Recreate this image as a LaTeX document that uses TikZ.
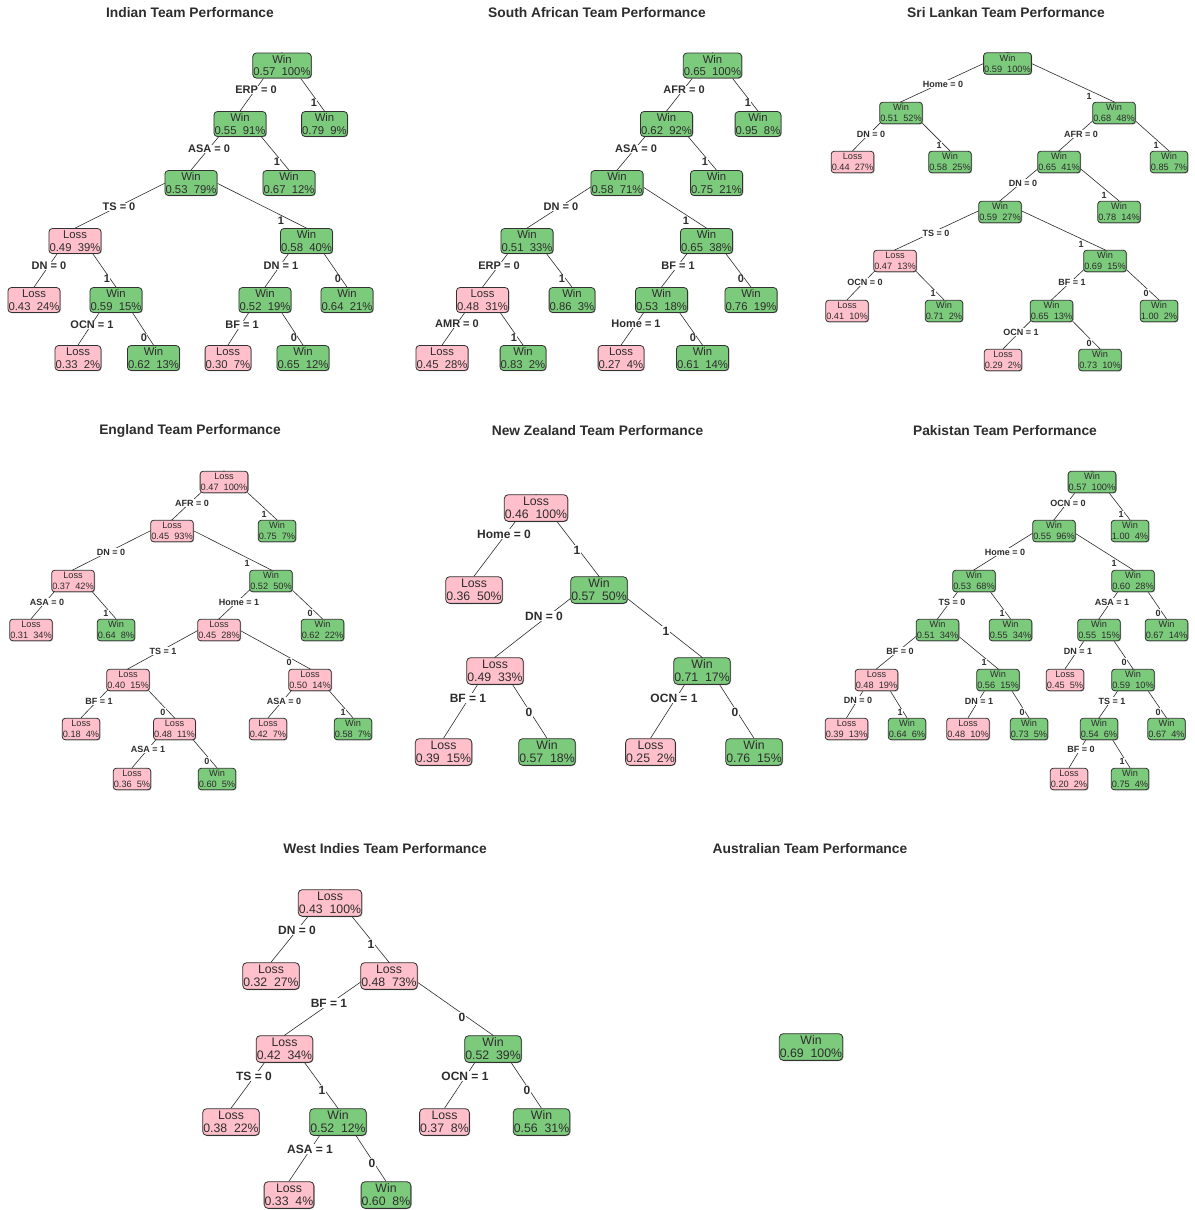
\documentclass[tikz,border=0pt]{standalone}
\usepackage{fontspec}
\setmainfont{Liberation Sans}
\usetikzlibrary{shadows}
\pgfdeclarelayer{bg}
\pgfdeclarelayer{paper}
\pgfsetlayers{paper,bg,main}
\definecolor{wingreen}{RGB}{124,202,124}
\definecolor{losspink}{RGB}{255,192,203}
\definecolor{txtgray}{RGB}{45,45,45}
\definecolor{bordergray}{RGB}{50,50,50}
\definecolor{shadowgray}{RGB}{150,150,150}
\tikzset{
  boxbase/.style={draw=bordergray, line width=0.8pt, rounded corners=3.5pt, inner xsep=0.6pt, inner ysep=0pt, align=center, text=txtgray,
    drop shadow={shadow xshift=0.7pt, shadow yshift=-0.7pt, fill=shadowgray, opacity=1}},
  midbox/.style={boxbase, minimum height=25pt, font=\fontsize{11.3}{12.4}\selectfont},
  smlbox/.style={boxbase, minimum height=21.5pt, rounded corners=3pt, font=\fontsize{9.2}{10.6}\selectfont},
  bigbox/.style={boxbase, minimum height=26.7pt, rounded corners=4pt, font=\fontsize{12.3}{13}\selectfont},
  lblbase/.style={fill=white, inner sep=0.4pt, text=txtgray},
  midlbl/.style={lblbase, font=\bfseries\fontsize{11}{12}\selectfont},
  smllbl/.style={lblbase, font=\bfseries\fontsize{9}{10}\selectfont},
  biglbl/.style={lblbase, font=\bfseries\fontsize{12}{13}\selectfont},
  ttl/.style={font=\bfseries\fontsize{13.8}{15}\selectfont, text=txtgray, inner sep=0pt},
  branch/.style={draw=txtgray, line width=0.6pt},
}
\newcommand{\br}[2]{\draw[branch] (#1.north) -- (#2.north);}
\newcommand{\splab}[4]{\node[splitlbl] (#1) at (#2,#3) {#4};}
\newcommand{\W}[4]{\node[winbox] (#1) at (#2,#3) {Win\\#4};}
\newcommand{\Ls}[4]{\node[lossbox] (#1) at (#2,#3) {Loss\\#4};}
\begin{document}
\begin{tikzpicture}[x=1pt,y=-1pt]
\useasboundingbox (0,0) rectangle (1194,1210);
\begin{pgfonlayer}{paper}
\fill[white] (0,0) rectangle (1194,1210);
\end{pgfonlayer}

% ---------------- Titles ----------------
\node[ttl] (t1) at (190,12.5) {Indian Team Performance};
\node[ttl] (t2) at (597,12.5) {South African Team Performance};
\node[ttl] (t3) at (1006,12.5) {Sri Lankan Team Performance};
\node[ttl] (t4) at (190,430.5) {England Team Performance};
\node[ttl] (t5) at (597.5,430.5) {New Zealand Team Performance};
\node[ttl] (t6) at (1005,430.5) {Pakistan Team Performance};
\node[ttl] (t7) at (385,848.5) {West Indies Team Performance};
\node[ttl] (t8) at (810,848.5) {Australian Team Performance};

% ---------------- Indian ----------------
\begin{scope}[winbox/.style={midbox,fill=wingreen}, lossbox/.style={midbox,fill=losspink}, splitlbl/.style={midlbl}]
\W{in1}{282}{65.5}{0.57\ \ 100\%}
\W{in2}{240}{124}{0.55\ \ 91\%}
\W{in3}{324.5}{124}{0.79\ \ 9\%}
\W{in4}{191}{183}{0.53\ \ 79\%}
\W{in5}{289}{183}{0.67\ \ 12\%}
\Ls{in6}{75}{241}{0.49\ \ 39\%}
\W{in7}{306.5}{241}{0.58\ \ 40\%}
\Ls{in8}{34}{300}{0.43\ \ 24\%}
\W{in9}{116}{300}{0.59\ \ 15\%}
\W{in10}{265}{300}{0.52\ \ 19\%}
\W{in11}{347}{300}{0.64\ \ 21\%}
\Ls{in12}{78}{358}{0.33\ \ 2\%}
\W{in13}{153.5}{358}{0.62\ \ 13\%}
\Ls{in14}{228}{358}{0.30\ \ 7\%}
\W{in15}{303}{358}{0.65\ \ 12\%}
\begin{pgfonlayer}{bg}
\br{in1}{in2}\br{in1}{in3}\br{in2}{in4}\br{in2}{in5}\br{in4}{in6}\br{in4}{in7}
\br{in6}{in8}\br{in6}{in9}\br{in7}{in10}\br{in7}{in11}\br{in9}{in12}\br{in9}{in13}
\br{in10}{in14}\br{in10}{in15}
\splab{inl1}{256}{90}{ERP = 0}
\splab{inl2}{314}{103}{1}
\splab{inl3}{209}{149}{ASA = 0}
\splab{inl4}{277}{162}{1}
\splab{inl5}{119}{207}{TS = 0}
\splab{inl6}{281}{221}{1}
\splab{inl7}{49}{266}{DN = 0}
\splab{inl8}{107}{279}{1}
\splab{inl9}{281}{266}{DN = 1}
\splab{inl10}{338}{279}{0}
\splab{inl11}{92}{325}{OCN = 1}
\splab{inl12}{144}{338}{0}
\splab{inl13}{242}{325}{BF = 1}
\splab{inl14}{294}{338}{0}
\end{pgfonlayer}
\end{scope}

% ---------------- South African ----------------
\begin{scope}[winbox/.style={midbox,fill=wingreen}, lossbox/.style={midbox,fill=losspink}, splitlbl/.style={midlbl}]
\W{sa1}{712.5}{65.5}{0.65\ \ 100\%}
\W{sa2}{666.5}{124}{0.62\ \ 92\%}
\W{sa3}{758}{124}{0.95\ \ 8\%}
\W{sa4}{617}{183}{0.58\ \ 71\%}
\W{sa5}{716.5}{183}{0.75\ \ 21\%}
\W{sa6}{527}{241}{0.51\ \ 33\%}
\W{sa7}{706.5}{241}{0.65\ \ 38\%}
\Ls{sa8}{482.5}{300}{0.48\ \ 31\%}
\W{sa9}{572}{300}{0.86\ \ 3\%}
\W{sa10}{661.5}{300}{0.53\ \ 18\%}
\W{sa11}{751}{300}{0.76\ \ 19\%}
\Ls{sa12}{442}{358}{0.45\ \ 28\%}
\W{sa13}{523}{358}{0.83\ \ 2\%}
\Ls{sa14}{621}{358}{0.27\ \ 4\%}
\W{sa15}{702.5}{358}{0.61\ \ 14\%}
\begin{pgfonlayer}{bg}
\br{sa1}{sa2}\br{sa1}{sa3}\br{sa2}{sa4}\br{sa2}{sa5}\br{sa4}{sa6}\br{sa4}{sa7}
\br{sa6}{sa8}\br{sa6}{sa9}\br{sa7}{sa10}\br{sa7}{sa11}\br{sa8}{sa12}\br{sa8}{sa13}
\br{sa10}{sa14}\br{sa10}{sa15}
\splab{sal1}{684}{90}{AFR = 0}
\splab{sal2}{748}{103}{1}
\splab{sal3}{636}{149}{ASA = 0}
\splab{sal4}{705}{162}{1}
\splab{sal5}{561}{207}{DN = 0}
\splab{sal6}{686}{221}{1}
\splab{sal7}{499}{266}{ERP = 0}
\splab{sal8}{562}{279}{1}
\splab{sal9}{678}{266}{BF = 1}
\splab{sal10}{741}{279}{0}
\splab{sal11}{457}{324}{AMR = 0}
\splab{sal12}{514}{338}{1}
\splab{sal13}{636}{324}{Home = 1}
\splab{sal14}{693}{338}{0}
\end{pgfonlayer}
\end{scope}

% ---------------- Sri Lankan ----------------
\begin{scope}[winbox/.style={smlbox,fill=wingreen}, lossbox/.style={smlbox,fill=losspink}, splitlbl/.style={smllbl}]
\W{sl1}{1007.5}{63.5}{0.59\ \ 100\%}
\W{sl2}{901}{113}{0.51\ \ 52\%}
\W{sl3}{1114}{113}{0.68\ \ 48\%}
\Ls{sl4}{852.5}{162}{0.44\ \ 27\%}
\W{sl5}{950}{162}{0.58\ \ 25\%}
\W{sl6}{1059}{162}{0.65\ \ 41\%}
\W{sl7}{1169}{162}{0.85\ \ 7\%}
\W{sl8}{1000}{212}{0.59\ \ 27\%}
\W{sl9}{1119}{212}{0.78\ \ 14\%}
\Ls{sl10}{895}{261}{0.47\ \ 13\%}
\W{sl11}{1105}{261}{0.69\ \ 15\%}
\Ls{sl12}{847}{311}{0.41\ \ 10\%}
\W{sl13}{944}{311}{0.71\ \ 2\%}
\W{sl14}{1051.5}{311}{0.65\ \ 13\%}
\W{sl15}{1159}{311}{1.00\ \ 2\%}
\Ls{sl16}{1003}{360}{0.29\ \ 2\%}
\W{sl17}{1100}{360}{0.73\ \ 10\%}
\begin{pgfonlayer}{bg}
\br{sl1}{sl2}\br{sl1}{sl3}\br{sl2}{sl4}\br{sl2}{sl5}\br{sl3}{sl6}\br{sl3}{sl7}
\br{sl6}{sl8}\br{sl6}{sl9}\br{sl8}{sl10}\br{sl8}{sl11}\br{sl10}{sl12}\br{sl10}{sl13}
\br{sl11}{sl14}\br{sl11}{sl15}\br{sl14}{sl16}\br{sl14}{sl17}
\splab{sll1}{943}{84}{Home = 0}
\splab{sll2}{1089}{96}{1}
\splab{sll3}{871}{134}{DN = 0}
\splab{sll4}{939}{145}{1}
\splab{sll5}{1081}{134}{AFR = 0}
\splab{sll6}{1156}{145}{1}
\splab{sll7}{1023}{183}{DN = 0}
\splab{sll8}{1104}{195}{1}
\splab{sll9}{936}{233}{TS = 0}
\splab{sll10}{1081}{244}{1}
\splab{sll11}{865}{282}{OCN = 0}
\splab{sll12}{933}{293}{1}
\splab{sll13}{1072}{282}{BF = 1}
\splab{sll14}{1146}{293}{0}
\splab{sll15}{1021}{332}{OCN = 1}
\splab{sll16}{1089}{343}{0}
\end{pgfonlayer}
\end{scope}

% ---------------- England ----------------
\begin{scope}[winbox/.style={smlbox,fill=wingreen}, lossbox/.style={smlbox,fill=losspink}, splitlbl/.style={smllbl}]
\Ls{en1}{224}{482}{0.47\ \ 100\%}
\Ls{en2}{172}{531}{0.45\ \ 93\%}
\W{en3}{277}{531}{0.75\ \ 7\%}
\Ls{en4}{73}{581}{0.37\ \ 42\%}
\W{en5}{271}{581}{0.52\ \ 50\%}
\Ls{en6}{31}{630}{0.31\ \ 34\%}
\W{en7}{116}{630}{0.64\ \ 8\%}
\Ls{en8}{219}{630}{0.45\ \ 28\%}
\W{en9}{322.5}{630}{0.62\ \ 22\%}
\Ls{en10}{128}{680}{0.40\ \ 15\%}
\Ls{en11}{310}{680}{0.50\ \ 14\%}
\Ls{en12}{81}{729}{0.18\ \ 4\%}
\Ls{en13}{174.5}{729}{0.48\ \ 11\%}
\Ls{en14}{268}{729}{0.42\ \ 7\%}
\W{en15}{353}{729}{0.58\ \ 7\%}
\Ls{en16}{132}{779}{0.36\ \ 5\%}
\W{en17}{217}{779}{0.60\ \ 5\%}
\begin{pgfonlayer}{bg}
\br{en1}{en2}\br{en1}{en3}\br{en2}{en4}\br{en2}{en5}\br{en4}{en6}\br{en4}{en7}
\br{en5}{en8}\br{en5}{en9}\br{en8}{en10}\br{en8}{en11}\br{en10}{en12}\br{en10}{en13}
\br{en11}{en14}\br{en11}{en15}\br{en13}{en16}\br{en13}{en17}
\splab{enl1}{192}{503}{AFR = 0}
\splab{enl2}{264}{514}{1}
\splab{enl3}{111}{552}{DN = 0}
\splab{enl4}{247}{563}{1}
\splab{enl5}{47}{602}{ASA = 0}
\splab{enl6}{106}{613}{1}
\splab{enl7}{239}{602}{Home = 1}
\splab{enl8}{310}{613}{0}
\splab{enl9}{163}{651}{TS = 1}
\splab{enl10}{289}{662}{0}
\splab{enl11}{99}{701}{BF = 1}
\splab{enl12}{163}{712}{0}
\splab{enl13}{284}{701}{ASA = 0}
\splab{enl14}{343}{712}{1}
\splab{enl15}{148}{749}{ASA = 1}
\splab{enl16}{207}{761}{0}
\end{pgfonlayer}
\end{scope}

% ---------------- Pakistan ----------------
\begin{scope}[winbox/.style={smlbox,fill=wingreen}, lossbox/.style={smlbox,fill=losspink}, splitlbl/.style={smllbl}]
\W{pk1}{1092}{482}{0.57\ \ 100\%}
\W{pk2}{1054}{531}{0.55\ \ 96\%}
\W{pk3}{1130}{531}{1.00\ \ 4\%}
\W{pk4}{974}{581}{0.53\ \ 68\%}
\W{pk5}{1133}{581}{0.60\ \ 28\%}
\W{pk6}{937.5}{630}{0.51\ \ 34\%}
\W{pk7}{1010.5}{630}{0.55\ \ 34\%}
\W{pk8}{1099}{630}{0.55\ \ 15\%}
\W{pk9}{1166.5}{630}{0.67\ \ 14\%}
\Ls{pk10}{876.5}{680}{0.48\ \ 19\%}
\W{pk11}{998}{680}{0.56\ \ 15\%}
\Ls{pk12}{1065}{680}{0.45\ \ 5\%}
\W{pk13}{1133}{680}{0.59\ \ 10\%}
\Ls{pk14}{846.5}{729}{0.39\ \ 13\%}
\W{pk15}{907}{729}{0.64\ \ 6\%}
\Ls{pk16}{968}{729}{0.48\ \ 10\%}
\W{pk17}{1029}{729}{0.73\ \ 5\%}
\W{pk18}{1099}{729}{0.54\ \ 6\%}
\W{pk19}{1166.5}{729}{0.67\ \ 4\%}
\Ls{pk20}{1069}{779}{0.20\ \ 2\%}
\W{pk21}{1130}{779}{0.75\ \ 4\%}
\begin{pgfonlayer}{bg}
\br{pk1}{pk2}\br{pk1}{pk3}\br{pk2}{pk4}\br{pk2}{pk5}\br{pk4}{pk6}\br{pk4}{pk7}
\br{pk5}{pk8}\br{pk5}{pk9}\br{pk6}{pk10}\br{pk6}{pk11}\br{pk8}{pk12}\br{pk8}{pk13}
\br{pk10}{pk14}\br{pk10}{pk15}\br{pk11}{pk16}\br{pk11}{pk17}\br{pk13}{pk18}\br{pk13}{pk19}
\br{pk18}{pk20}\br{pk18}{pk21}
\splab{pkl1}{1068}{503}{OCN = 0}
\splab{pkl2}{1121}{514}{1}
\splab{pkl3}{1005}{552}{Home = 0}
\splab{pkl4}{1114}{563}{1}
\splab{pkl5}{952}{602}{TS = 0}
\splab{pkl6}{1002}{613}{1}
\splab{pkl7}{1112}{602}{ASA = 1}
\splab{pkl8}{1158}{613}{0}
\splab{pkl9}{900}{651}{BF = 0}
\splab{pkl10}{984}{662}{1}
\splab{pkl11}{1078}{651}{DN = 1}
\splab{pkl12}{1124}{662}{0}
\splab{pkl13}{858}{700}{DN = 0}
\splab{pkl14}{900}{712}{1}
\splab{pkl15}{979}{701}{DN = 1}
\splab{pkl16}{1022}{712}{0}
\splab{pkl17}{1112}{701}{TS = 1}
\splab{pkl18}{1158}{712}{0}
\splab{pkl19}{1081}{749}{BF = 0}
\splab{pkl20}{1122}{761}{1}
\end{pgfonlayer}
\end{scope}

% ---------------- New Zealand ----------------
\begin{scope}[winbox/.style={bigbox,fill=wingreen}, lossbox/.style={bigbox,fill=losspink}, splitlbl/.style={biglbl}]
\Ls{nz1}{536}{508}{0.46\ \ 100\%}
\Ls{nz2}{474}{590}{0.36\ \ 50\%}
\W{nz3}{599}{590}{0.57\ \ 50\%}
\Ls{nz4}{495}{671}{0.49\ \ 33\%}
\W{nz5}{702}{671}{0.71\ \ 17\%}
\Ls{nz6}{443.5}{752}{0.39\ \ 15\%}
\W{nz7}{547}{752}{0.57\ \ 18\%}
\Ls{nz8}{650.5}{752}{0.25\ \ 2\%}
\W{nz9}{754}{752}{0.76\ \ 15\%}
\begin{pgfonlayer}{bg}
\br{nz1}{nz2}\br{nz1}{nz3}\br{nz3}{nz4}\br{nz3}{nz5}\br{nz4}{nz6}\br{nz4}{nz7}
\br{nz5}{nz8}\br{nz5}{nz9}
\splab{nzl1}{504}{534}{Home = 0}
\splab{nzl2}{577}{550}{1}
\splab{nzl3}{544}{616}{DN = 0}
\splab{nzl4}{666}{631}{1}
\splab{nzl5}{468}{698}{BF = 1}
\splab{nzl6}{529}{712}{0}
\splab{nzl7}{674}{698}{OCN = 1}
\splab{nzl8}{735}{712}{0}
\end{pgfonlayer}
\end{scope}

% ---------------- West Indies ----------------
\begin{scope}[winbox/.style={bigbox,fill=wingreen}, lossbox/.style={bigbox,fill=losspink}, splitlbl/.style={biglbl}]
\Ls{wi1}{330}{903}{0.43\ \ 100\%}
\Ls{wi2}{271}{976}{0.32\ \ 27\%}
\Ls{wi3}{389}{976}{0.48\ \ 73\%}
\Ls{wi4}{284.5}{1049}{0.42\ \ 34\%}
\W{wi5}{493}{1049}{0.52\ \ 39\%}
\Ls{wi6}{231}{1122}{0.38\ \ 22\%}
\W{wi7}{338}{1122}{0.52\ \ 12\%}
\Ls{wi8}{444.5}{1122}{0.37\ \ 8\%}
\W{wi9}{541.5}{1122}{0.56\ \ 31\%}
\Ls{wi10}{289}{1195}{0.33\ \ 4\%}
\W{wi11}{386}{1195}{0.60\ \ 8\%}
\begin{pgfonlayer}{bg}
\br{wi1}{wi2}\br{wi1}{wi3}\br{wi3}{wi4}\br{wi3}{wi5}\br{wi4}{wi6}\br{wi4}{wi7}
\br{wi5}{wi8}\br{wi5}{wi9}\br{wi7}{wi10}\br{wi7}{wi11}
\splab{wil1}{297}{930}{DN = 0}
\splab{wil2}{371}{944}{1}
\splab{wil3}{329}{1003}{BF = 1}
\splab{wil4}{462}{1017}{0}
\splab{wil5}{254}{1076}{TS = 0}
\splab{wil6}{322}{1090}{1}
\splab{wil7}{465}{1076}{OCN = 1}
\splab{wil8}{527}{1090}{0}
\splab{wil9}{310}{1149}{ASA = 1}
\splab{wil10}{372}{1163}{0}
\end{pgfonlayer}
\end{scope}

% ---------------- Australian ----------------
\begin{scope}[winbox/.style={bigbox,fill=wingreen}]
\W{au1}{811}{1047}{0.69\ \ 100\%}
\end{scope}
\end{tikzpicture}
\end{document}
